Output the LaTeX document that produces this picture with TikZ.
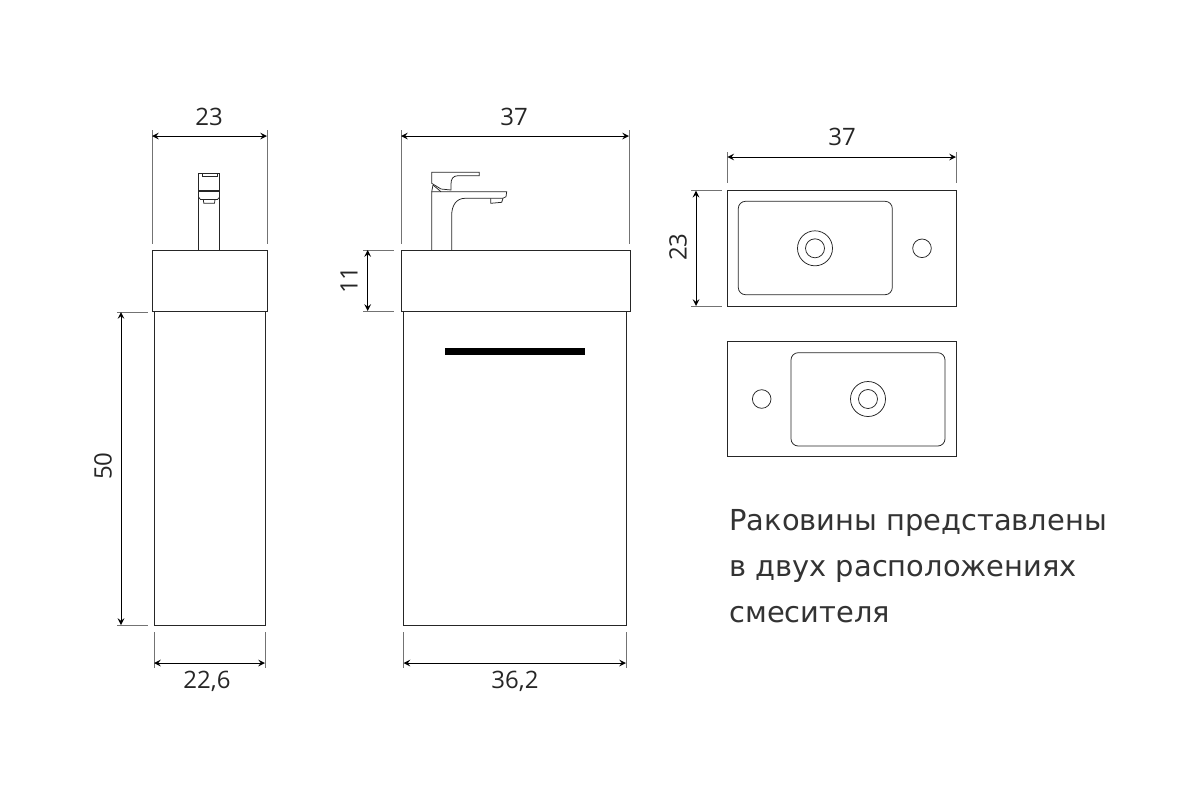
\documentclass[tikz,border=0pt]{standalone}
\usepackage{fontspec}
\setmainfont{Open Sans}
\newfontfamily\notefont{DejaVu Sans}
\tikzset{
  body/.style={black!85, line width=0.45pt},
  thinbody/.style={black!85, line width=0.38pt},
  dimline/.style={black, line width=0.5pt, <->, >=stealth},
  extline/.style={black!55, line width=0.3pt},
  dimtext/.style={font=\fontsize{12}{15}\selectfont, text=black!85, inner sep=0pt},
  notetext/.style={font=\notefont\fontsize{14.45}{17}\selectfont, text=black!80, anchor=base west, inner sep=0pt}
}
\begin{document}
\begin{tikzpicture}[x=0.5pt,y=-0.5pt]
\useasboundingbox (0,0) rectangle (1200,800);
%side view
\draw[body] (152,250) rectangle (267,311);%top
\draw[body] (154,311) rectangle (265,625);%cabinet
%side mixer
\draw[thinbody] (198.5,250) -- (198.5,173) -- (219.7,173) -- (219.7,250);
\draw[thinbody] (202,173) -- (202,176.5) -- (217.3,176.5) -- (217.3,173);
\draw[black!85, line width=0.8pt] (198.5,190.7) -- (219.7,190.7);
\draw[thinbody] (198.5,197) -- (200.5,199.5) -- (217.5,199.5) -- (219.7,197);
\draw[thinbody] (203.3,199.5) -- (203.8,203.3) -- (214.5,203.3) -- (215,199.5);
%side dimensions
\draw[extline] (152,130) -- (152,244);
\draw[extline] (267,130) -- (267,244);
\draw[dimline] (152,136) -- (267,136);
\node[dimtext] (sidetop) at (209,117) {23};
\draw[extline] (117,312) -- (148,312);
\draw[extline] (117,625) -- (148,625);
\draw[dimline] (121,312) -- (121,625);
\node[dimtext, rotate=90] (sideheight) at (103,466) {50};
\draw[extline] (154,632) -- (154,668);
\draw[extline] (265,632) -- (265,668);
\draw[dimline] (154,663) -- (265,663);
\node[dimtext] (sidebottom) at (207,681) {22,6};
%front view
\draw[body] (401,250) rectangle (630,311);%top
\draw[body] (403.5,311) rectangle (626,625);%cabinet
\fill[black] (445,347.5) rectangle (585,354.5);%handle
%front mixer
\draw[thinbody] (431.7,250) -- (431.7,191.7) -- (506.7,191.7) -- (506,196.7) -- (502.7,198.3) -- (465,198.3) .. controls (456,198.3) and (451.7,206) .. (451.7,215) -- (451.7,250);
\draw[thinbody] (490.7,198.3) -- (490.7,203.3) -- (501.7,202.3) -- (503,198.3);
\draw[thinbody] (431.7,172.3) -- (479.3,172.3) -- (479.3,175.7) -- (458,175.7) .. controls (453,175.7) and (451,179) .. (451,184) -- (451,190) -- (441,189) -- (431.7,183.3) -- cycle;
\draw[thinbody] (433,185) -- (431.7,191.7);
\draw[thinbody] (433,185) -- (441,191.7);
%front dimensions
\draw[extline] (401,130) -- (401,244);
\draw[extline] (629,130) -- (629,244);
\draw[dimline] (401,136) -- (629,136);
\node[dimtext] (fronttop) at (514,117) {37};
\draw[extline] (363,250) -- (394,250);
\draw[extline] (363,311) -- (394,311);
\draw[dimline] (367.7,250) -- (367.7,311);
\node[dimtext, rotate=90] (frontheight) at (349,280) {11};
\draw[extline] (403.5,632) -- (403.5,668);
\draw[extline] (626,632) -- (626,668);
\draw[dimline] (403.5,663) -- (626,663);
\node[dimtext] (frontbottom) at (515,681) {36,2};
%upper basin
\draw[body] (727.3,190.7) rectangle (956,306);
\draw[thinbody, rounded corners=3.6pt] (738.3,201.3) rectangle (892.3,294.7);
\draw[thinbody] (815,248.3) circle (17.5);
\draw[thinbody] (815,248.3) circle (9.5);
\draw[thinbody] (922,248.3) circle (9.3);
%upper basin dimensions
\draw[extline] (727.3,152) -- (727.3,183);
\draw[extline] (956,152) -- (956,183);
\draw[dimline] (727.3,157) -- (956,157);
\node[dimtext] (basintop) at (842,137) {37};
\draw[extline] (691,190.7) -- (722,190.7);
\draw[extline] (691,306) -- (722,306);
\draw[dimline] (696,190.7) -- (696,306);
\node[dimtext, rotate=90] (basinheight) at (678,247) {23};
%lower basin
\draw[body] (727.3,341) rectangle (956,456.7);
\draw[thinbody, rounded corners=3.6pt] (791,352.7) rectangle (945,446);
\draw[thinbody] (868,399) circle (17.5);
\draw[thinbody] (868,399) circle (9.5);
\draw[thinbody] (761.7,399) circle (9.3);
%note
\node[notetext] (noteone) at (729,530) {Раковины представлены};
\node[notetext] (notetwo) at (729,576) {в двух расположениях};
\node[notetext] (notethree) at (729,622) {смесителя};
\end{tikzpicture}
\end{document}
